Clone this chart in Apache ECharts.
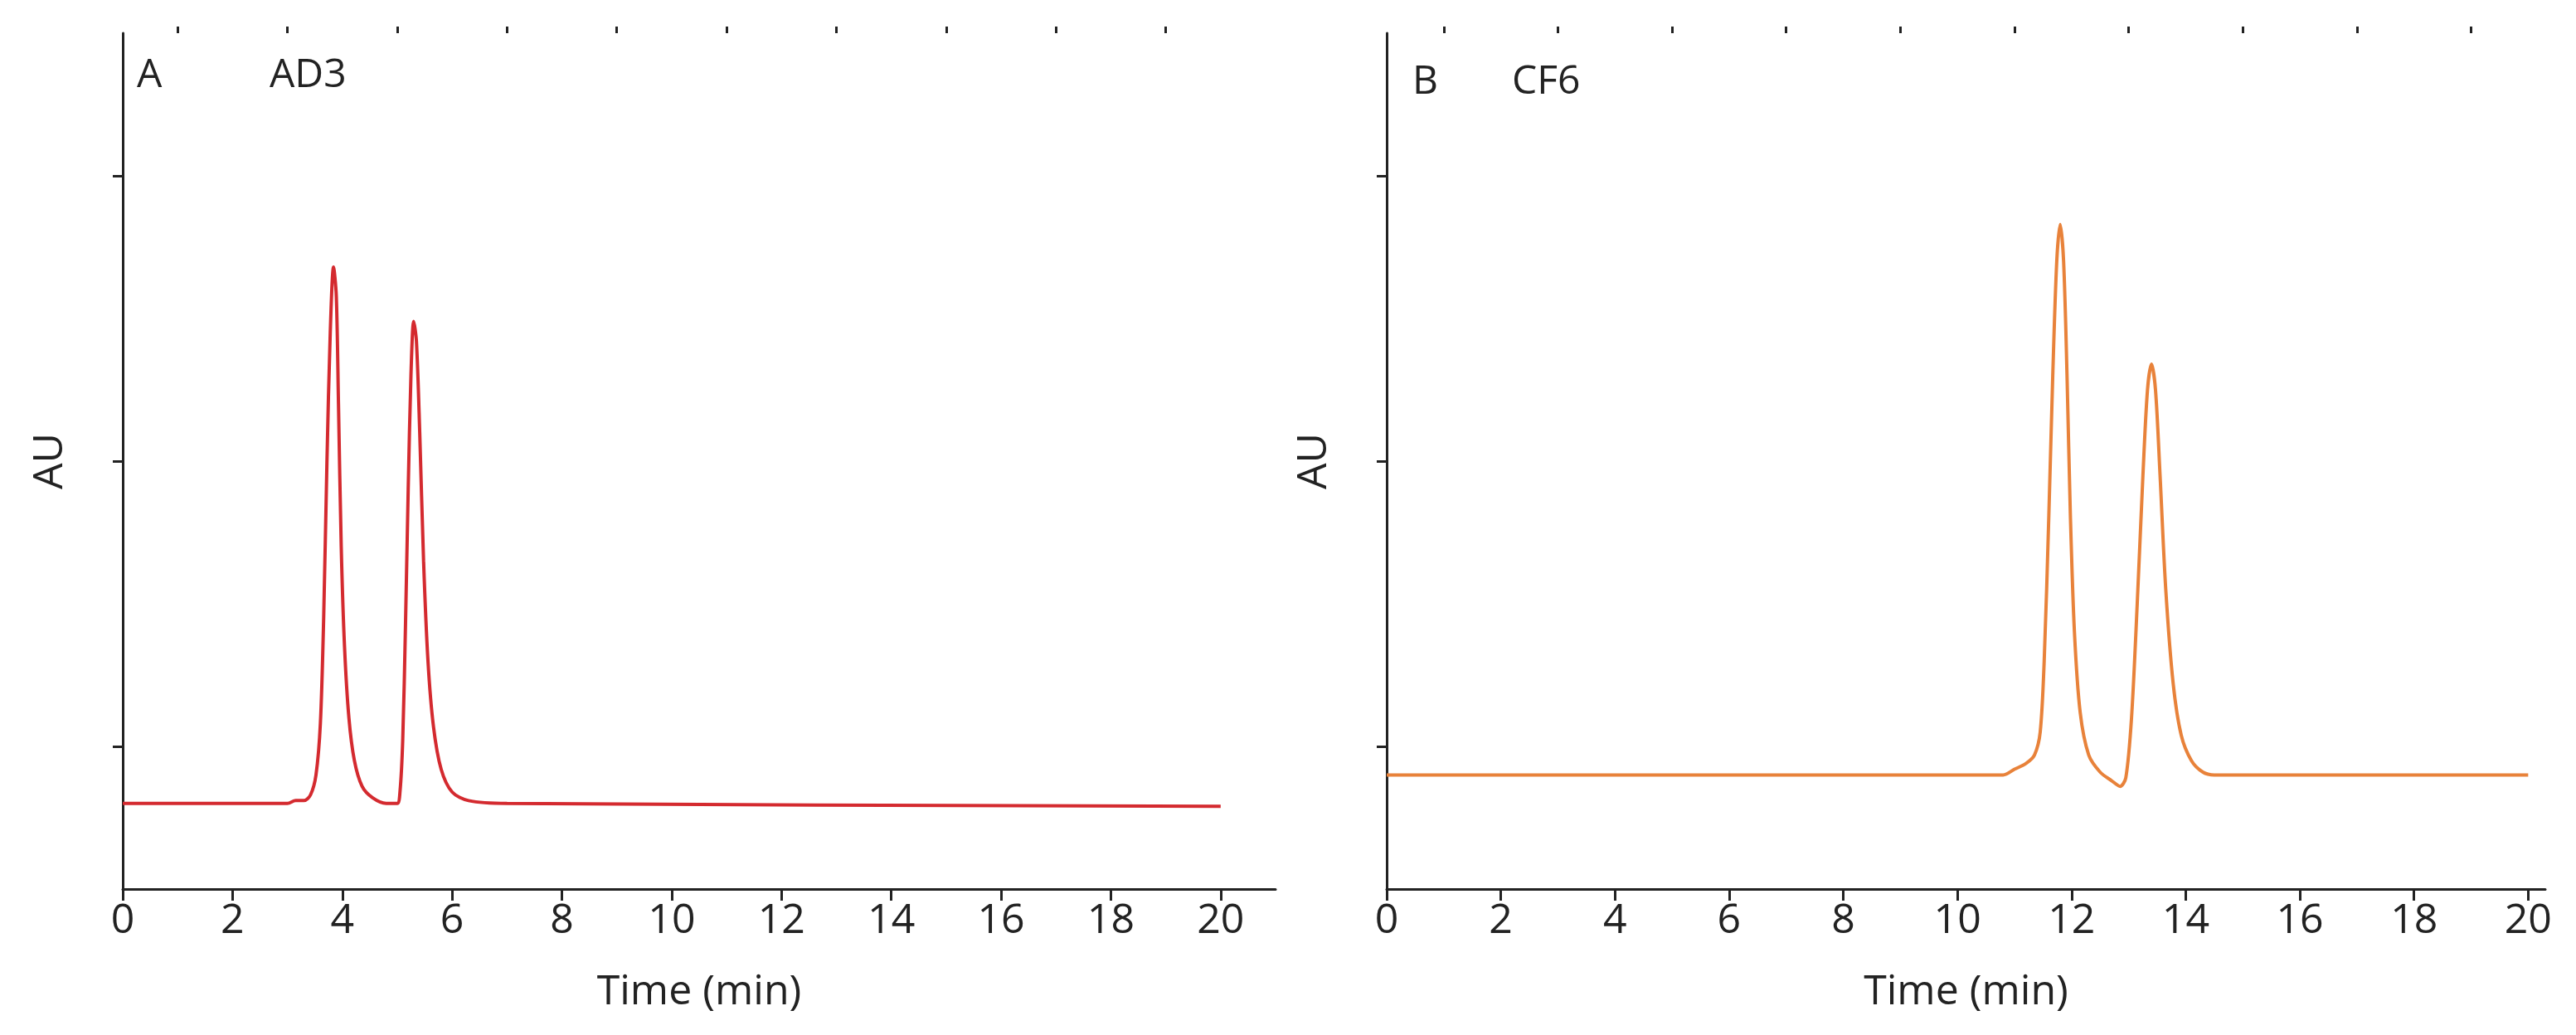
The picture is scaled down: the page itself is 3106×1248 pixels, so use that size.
<!DOCTYPE html>
<html>
<head>
<meta charset="utf-8">
<script src="https://cdn.jsdelivr.net/npm/echarts@6/dist/echarts.min.js"></script>
<style>
  html, body { margin: 0; padding: 0; background: #fff; }
  #chart { width: 3106px; height: 1248px; }
</style>
</head>
<body>
<div id="chart"></div>
<script>
// chromatogram A (AD3), [time, AU]
const traceA = [
  [0, 0.30], [3.0, 0.30], [3.15, 0.31], [3.3, 0.31], [3.42, 0.33], [3.52, 0.40],
  [3.6, 0.58], [3.66, 0.95], [3.72, 1.5], [3.78, 1.95], [3.84, 2.18], [3.89, 2.08],
  [3.93, 1.7], [3.98, 1.2], [4.04, 0.85], [4.12, 0.6], [4.22, 0.45], [4.36, 0.36],
  [4.55, 0.32], [4.8, 0.30], [5.0, 0.30], [5.05, 0.34], [5.1, 0.52], [5.15, 0.92],
  [5.2, 1.4], [5.25, 1.8], [5.3, 1.99], [5.35, 1.92], [5.41, 1.6], [5.48, 1.15],
  [5.56, 0.8], [5.66, 0.57], [5.8, 0.42], [6.0, 0.34], [6.3, 0.31], [7.0, 0.30],
  [20, 0.29]
];
// chromatogram B (CF6)
const traceB = [
  [0, 0.40], [10.8, 0.40], [11.0, 0.42], [11.2, 0.44], [11.35, 0.47], [11.45, 0.55],
  [11.52, 0.8], [11.6, 1.3], [11.67, 1.8], [11.74, 2.2], [11.8, 2.33], [11.86, 2.2],
  [11.92, 1.8], [11.98, 1.3], [12.05, 0.9], [12.15, 0.62], [12.3, 0.47], [12.5, 0.41],
  [12.7, 0.38], [12.85, 0.36], [12.95, 0.39], [13.05, 0.6], [13.15, 1.0], [13.25, 1.45],
  [13.33, 1.75], [13.4, 1.84], [13.47, 1.75], [13.55, 1.45], [13.65, 1.05], [13.78, 0.72],
  [13.92, 0.54], [14.1, 0.45], [14.3, 0.41], [14.5, 0.40], [20, 0.40]
];
const majorTicks = [0, 2, 4, 6, 8, 10, 12, 14, 16, 18, 20];
const minorTicks = [1, 3, 5, 7, 9, 11, 13, 15, 17, 19];
const yTicks = [0.5, 1.5, 2.5];

const font = 'Open Sans';
const ink = '#222';

const grids = [
  { left: 148, top: 40, width: 1390, height: 1032 },
  { left: 1672, top: 40, width: 1397, height: 1032 }
];
const xMax = [21, 20.3];

const xAxes = [];
const yAxes = [];
[0, 1].forEach(i => {
  xAxes.push({
    type: 'value', gridIndex: i, min: 0, max: xMax[i], interval: 1,
    name: 'Time (min)', nameLocation: 'middle', nameGap: 100,
    nameTextStyle: { fontFamily: font, fontSize: 50, color: ink },
    axisLine: { lineStyle: { color: ink, width: 3 } },
    axisTick: { customValues: majorTicks, length: 14, lineStyle: { color: ink, width: 3 } },
    axisLabel: { customValues: majorTicks, margin: 14, fontFamily: font, fontSize: 50, color: ink },
    splitLine: { show: false }
  });
  // second axis only for the short odd ticks
  xAxes.push({
    type: 'value', gridIndex: i, min: 0, max: xMax[i], interval: 1,
    axisLine: { show: false },
    axisTick: { customValues: minorTicks, length: 8, lineStyle: { color: ink, width: 3 } },
    axisLabel: { show: false },
    splitLine: { show: false }
  });
  yAxes.push({
    type: 'value', gridIndex: i, min: 0, max: 3,
    name: 'AU', nameLocation: 'middle', nameGap: 62,
    nameTextStyle: { fontFamily: font, fontSize: 50, color: ink },
    axisLine: { show: true, lineStyle: { color: ink, width: 3 } },
    axisTick: { show: true, customValues: yTicks, length: 12, lineStyle: { color: ink, width: 3 } },
    axisLabel: { show: false },
    splitLine: { show: false }
  });
});

const chart = echarts.init(document.getElementById('chart'));
chart.setOption({
  animation: false,
  backgroundColor: '#fff',
  title: [
    { text: 'A', left: 160, top: 62, textStyle: { fontFamily: font, fontSize: 48, fontWeight: 'normal', color: ink } },
    { text: 'AD3', left: 320, top: 62, textStyle: { fontFamily: font, fontSize: 48, fontWeight: 'normal', color: ink } },
    { text: 'B', left: 1698, top: 70, textStyle: { fontFamily: font, fontSize: 48, fontWeight: 'normal', color: ink } },
    { text: 'CF6', left: 1818, top: 70, textStyle: { fontFamily: font, fontSize: 48, fontWeight: 'normal', color: ink } }
  ],
  grid: grids,
  xAxis: xAxes,
  yAxis: yAxes,
  series: [
    { type: 'line', xAxisIndex: 0, yAxisIndex: 0, data: traceA, smooth: 0.3, showSymbol: false,
      lineStyle: { color: '#d42a2f', width: 4 } },
    { type: 'line', xAxisIndex: 2, yAxisIndex: 1, data: traceB, smooth: 0.3, showSymbol: false,
      lineStyle: { color: '#e8823a', width: 4 } }
  ]
});
</script>
</body>
</html>
